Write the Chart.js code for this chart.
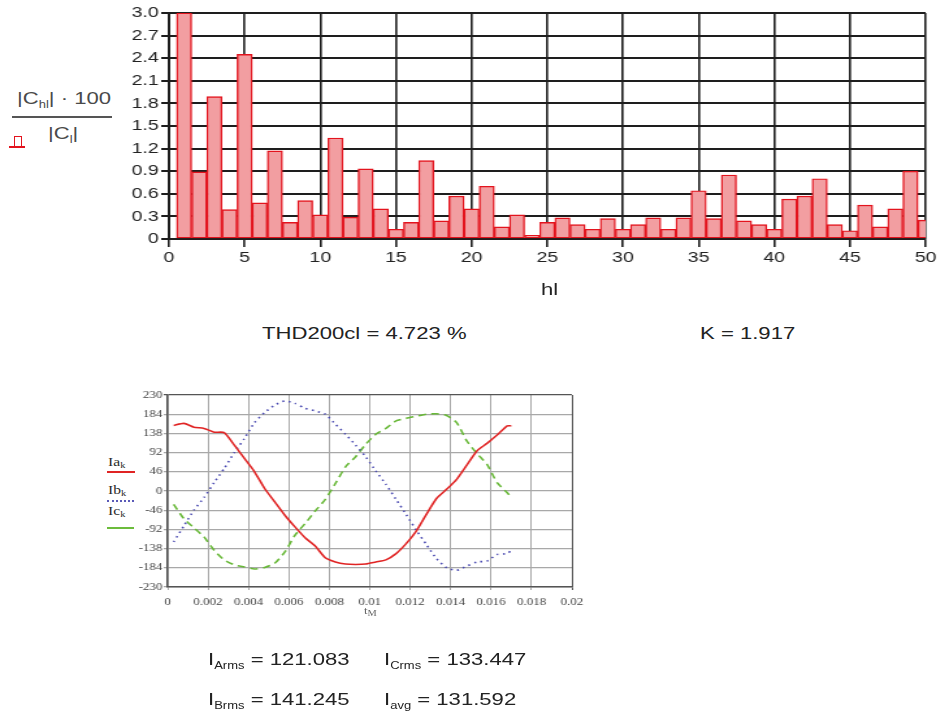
<!DOCTYPE html>
<html>
<head>
<meta charset="utf-8">
<script src="https://cdn.jsdelivr.net/npm/chart.js@4.4.0/dist/chart.umd.min.js"></script>
<style>
  html, body { margin:0; padding:0; background:#fff; }
  body { width:941px; height:717px; position:relative; overflow:hidden; font-family:"Liberation Sans", Arial, sans-serif; color:#222; }
  .abs { position:absolute; white-space:nowrap; line-height:1; transform-origin:0 0; transform:scaleX(1.3); }
  .t17 { font-size:17px; color:#222; }
  .sub { font-size:10px; position:relative; top:4px; }
  .frac { font-size:17px; color:#4a4a4a; }
  .leg { font-family:"Liberation Serif", serif; font-size:12px; color:#2a2a2a; }
  .leg .s { font-size:8px; position:relative; top:2px; }
  #topWrap { position:absolute; left:0; top:0; width:724px; height:300px; transform-origin:0 0; transform:scaleX(1.3); }
  #botWrap { position:absolute; left:100px; top:380px; width:385px; height:240px; transform-origin:0 0; transform:scaleX(1.3); }
  .line { position:absolute; }
</style>
</head>
<body>

<!-- top chart y-axis title (fraction) -->
<div class="abs frac" style="left:17px; top:90px;">|C<span class="sub" style="font-size:10px">hl</span>| · 100</div>
<div class="line" style="left:12px; top:116px; width:100px; height:1.5px; background:#555;"></div>
<div class="abs frac" style="left:48px; top:125px;">|C<span class="sub" style="font-size:10px">l</span>|</div>
<!-- series symbol (pulse) -->
<div class="line" style="left:14px; top:136px; width:6px; height:10px; border:1.5px solid #e3141e; border-bottom:none;"></div>
<div class="line" style="left:9px; top:146px; width:16px; height:1.5px; background:#e3141e;"></div>

<div id="topWrap"><canvas id="c1" width="724" height="300"></canvas></div>

<div class="abs t17" style="left:541px; top:281px;">hl</div>
<div class="abs t17" style="left:262px; top:325px;">THD200cl = 4.723 %</div>
<div class="abs t17" style="left:700px; top:325px;">K = 1.917</div>

<!-- bottom chart legend -->
<div class="abs leg" style="left:108px; top:456px;">Ia<span class="s">k</span></div>
<div class="line" style="left:107px; top:471px; width:28px; height:1.5px; background:#e02424;"></div>
<div class="abs leg" style="left:108px; top:484px;">Ib<span class="s">k</span></div>
<div class="line" style="left:107px; top:500px; width:27px; height:0; border-top:2px dotted #5a5ab8;"></div>
<div class="abs leg" style="left:108px; top:505px;">Ic<span class="s">k</span></div>
<div class="line" style="left:107px; top:527px; width:27px; height:2px; background:#6cbc3c;"></div>

<div id="botWrap"><canvas id="c2" width="385" height="240"></canvas></div>
<div class="abs leg" style="left:364px; top:606px; font-size:10px; color:#666;">t<span class="s">M</span></div>

<div class="abs t17" style="left:208px; top:651px;">I<span class="sub">Arms</span> = 121.083</div>
<div class="abs t17" style="left:384px; top:651px;">I<span class="sub">Crms</span> = 133.447</div>
<div class="abs t17" style="left:208px; top:691px;">I<span class="sub">Brms</span> = 141.245</div>
<div class="abs t17" style="left:384px; top:691px;">I<span class="sub">avg</span> = 131.592</div>

<script>
// ---- harmonic spectrum (top chart) ----
const harmonicOrders = [1,2,3,4,5,6,7,8,9,10,11,12,13,14,15,16,17,18,19,20,21,22,23,24,25,26,27,28,29,30,31,32,33,34,35,36,37,38,39,40,41,42,43,44,45,46,47,48,49,50];
const harmonicPercent = [3.0,0.89,1.89,0.39,2.45,0.48,1.17,0.22,0.51,0.32,1.34,0.29,0.93,0.40,0.13,0.22,1.04,0.24,0.57,0.40,0.70,0.16,0.32,0.05,0.22,0.28,0.19,0.13,0.27,0.13,0.19,0.28,0.13,0.28,0.64,0.27,0.85,0.24,0.19,0.13,0.53,0.57,0.80,0.19,0.11,0.45,0.16,0.40,0.90,0.25];

// ---- phase currents (bottom chart) ----
const sampleTimes = [0.0003,0.0008,0.0013,0.0018,0.0023,0.0028,0.0033,0.0038,0.0043,0.0048,0.0053,0.0058,0.0063,0.0068,0.0073,0.0078,0.0083,0.0088,0.0093,0.0098,0.0103,0.0108,0.0113,0.0118,0.0123,0.0128,0.0133,0.0138,0.0143,0.0148,0.0153,0.0158,0.0163,0.0168,0.0170];
const currentA = [157,162,153,150,141,140,110,78,46,6,-26,-58,-86,-112,-132,-160,-170,-175,-176,-175,-170,-165,-150,-126,-96,-56,-18,4,28,62,96,114,134,156,156];
const currentB = [-122,-84,-46,-16,20,54,92,126,164,188,206,216,210,198,192,184,160,136,110,82,48,16,-20,-56,-94,-128,-162,-184,-190,-180,-170,-168,-152,-150,-142];
const currentC = [-32,-66,-88,-110,-142,-165,-177,-182,-187,-183,-173,-146,-106,-78,-48,-20,18,58,82,112,136,150,168,174,179,184,185,181,164,120,90,64,20,-4,-16];

const sans = "'Liberation Sans', Arial, sans-serif";
const serif = "'Liberation Serif', 'Times New Roman', serif";

new Chart(document.getElementById('c1'), {
  type: 'bar',
  data: {
    datasets: [{
      data: harmonicOrders.map((h, i) => ({ x: h, y: harmonicPercent[i] })),
      backgroundColor: '#f29ea1',
      borderColor: '#e3141e',
      borderWidth: 1.4,
      borderSkipped: false,
      barPercentage: 1,
      categoryPercentage: 1,
      clip: 0
    }]
  },
  options: {
    responsive: false,
    animation: false,
    layout: { padding: { left: 90, right: 12, top: 13, bottom: 21 } },
    plugins: { legend: { display: false }, tooltip: { enabled: false } },
    scales: {
      x: {
        type: 'linear', min: 0, max: 50, offset: false, z: 1,
        ticks: { stepSize: 5, autoSkip: false, maxRotation: 0, padding: 2, color: '#222', font: { family: sans, size: 15 } },
        grid: { offset: false, color: '#1e1e1e', lineWidth: 1.6, tickLength: 8 },
        border: { color: '#1e1e1e', width: 1.6 },
        afterFit: s => { s.height = 40; }
      },
      y: {
        min: 0, max: 3, z: 1,
        ticks: { stepSize: 0.3, padding: 2, color: '#222', font: { family: sans, size: 15 },
                 callback: v => v === 0 ? '0' : Number(v).toFixed(1) },
        grid: { color: '#1e1e1e', lineWidth: 2, tickLength: 6 },
        border: { color: '#1e1e1e', width: 2 },
        afterFit: s => { s.width = 40; }
      }
    }
  }
});

const pts = arr => sampleTimes.map((t, i) => ({ x: t, y: arr[i] }));

new Chart(document.getElementById('c2'), {
  type: 'line',
  data: {
    datasets: [
      { label: 'Ia', data: pts(currentA), borderColor: '#e02424', borderWidth: 1.6, pointRadius: 0, tension: 0.2 },
      { label: 'Ib', data: pts(currentB), borderColor: '#4848b0', borderWidth: 1.6, borderDash: [1.5, 3.5], pointRadius: 0, tension: 0.2 },
      { label: 'Ic', data: pts(currentC), borderColor: '#68b838', borderWidth: 1.6, borderDash: [6, 4], pointRadius: 0, tension: 0.2 }
    ]
  },
  options: {
    responsive: false,
    animation: false,
    layout: { padding: { left: 22, right: 22, top: 15, bottom: 11 } },
    plugins: { legend: { display: false }, tooltip: { enabled: false } },
    scales: {
      x: {
        type: 'linear', min: 0, max: 0.02,
        ticks: { stepSize: 0.002, autoSkip: false, maxRotation: 0, padding: 6, color: '#444', font: { family: serif, size: 10 },
                 callback: v => String(Number(Number(v).toFixed(3))) },
        grid: { color: c => (c.tick && Math.abs(c.tick.value - 0.02) < 1e-9) ? '#555' : '#a8a8a8', lineWidth: 1, tickLength: 3 },
        border: { color: '#555', width: 1.5 },
        afterFit: s => { s.height = 22; }
      },
      y: {
        min: -230, max: 230,
        ticks: { stepSize: 46, padding: 1, color: '#444', font: { family: serif, size: 10 } },
        grid: { color: c => (c.tick && c.tick.value === 230) ? '#555' : '#a8a8a8', lineWidth: 1.2, tickLength: 3 },
        border: { color: '#555', width: 1.5 },
        afterFit: s => { s.width = 30; }
      }
    }
  }
});
</script>
</body>
</html>
